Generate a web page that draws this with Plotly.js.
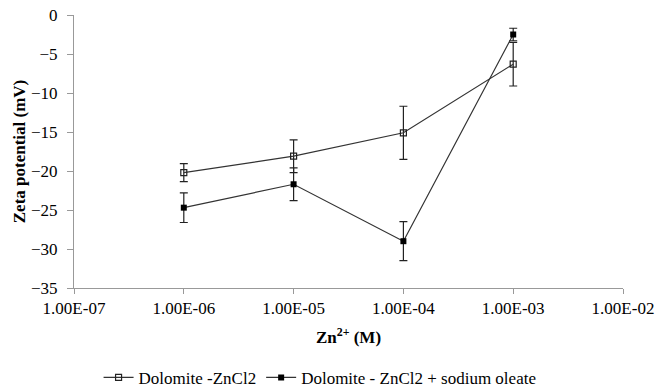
<!DOCTYPE html>
<html>
<head>
<meta charset="utf-8">
<script src="https://cdn.plot.ly/plotly-3.0.1.min.js"></script>
<style>html,body{margin:0;padding:0;background:#fff;}#chart{width:671px;height:388px;}</style>
</head>
<body>
<div id="chart"></div>
<script>
const concentrations = [1e-6, 1e-5, 1e-4, 1e-3];
const seriesNames = ["Dolomite -ZnCl2", "Dolomite - ZnCl2 + sodium oleate"];
const zetaZnCl2 = [-20.2, -18.1, -15.1, -6.3];
const errZnCl2 = [1.15, 2.1, 3.4, 2.8];
const zetaOleate = [-24.7, -21.7, -29.0, -2.5];
const errOleate = [1.9, 2.1, 2.5, 0.8];
const xTickVals = [1e-7, 1e-6, 1e-5, 1e-4, 1e-3, 1e-2];
const xTickText = ["1.00E-07", "1.00E-06", "1.00E-05", "1.00E-04", "1.00E-03", "1.00E-02"];
const yTickVals = [0, -5, -10, -15, -20, -25, -30, -35];

const FAMILY = "'Times New Roman', 'Liberation Serif', Times, serif";
function fnt(size) { return {family: FAMILY, size: size, color: "#000"}; }

const traces = [
  {
    x: concentrations, y: zetaZnCl2, name: seriesNames[0], type: "scatter", mode: "lines+markers",
    line: {color: "#333", width: 1.2},
    marker: {symbol: "square-open", size: 6, color: "#222", line: {width: 1.2}},
    error_y: {type: "data", array: errZnCl2, visible: true, color: "#222", thickness: 1.2, width: 4}
  },
  {
    x: concentrations, y: zetaOleate, name: seriesNames[1], type: "scatter", mode: "lines+markers",
    line: {color: "#333", width: 1.2},
    marker: {symbol: "square", size: 6, color: "#000"},
    error_y: {type: "data", array: errOleate, visible: true, color: "#222", thickness: 1.2, width: 4}
  }
];

const layout = {
  width: 671, height: 388,
  margin: {l: 74, r: 48, t: 15, b: 100},
  paper_bgcolor: "#fff", plot_bgcolor: "#fff",
  font: fnt(17),
  showlegend: true,
  legend: {orientation: "h", x: 0.477, xref: "container", xanchor: "center",
           y: 0.026, yref: "container", yanchor: "middle",
           font: fnt(17), itemwidth: 30, tracegroupgap: 0},
  xaxis: {
    type: "log", range: [-7, -2], tickvals: xTickVals, ticktext: xTickText,
    showgrid: false, zeroline: false, showline: true, linecolor: "#999", linewidth: 1,
    ticks: "outside", ticklen: 5, tickcolor: "#999", automargin: false,
    tickfont: fnt(17),
    title: {text: "<b>Zn<sup>2+</sup> (M)</b>", font: fnt(17), standoff: 13}
  },
  yaxis: {
    range: [-35, 0], tickvals: yTickVals, showgrid: false, zeroline: false,
    showline: true, linecolor: "#999", linewidth: 1, automargin: false,
    ticks: "outside", ticklen: 6, tickcolor: "#999", ticklabelstandoff: 6,
    tickfont: fnt(17),
    title: {text: "<b>Zeta potential (mV)</b>", font: fnt(17), standoff: 1}
  }
};

Plotly.newPlot("chart", traces, layout, {displayModeBar: false, staticPlot: true});
</script>
</body>
</html>
